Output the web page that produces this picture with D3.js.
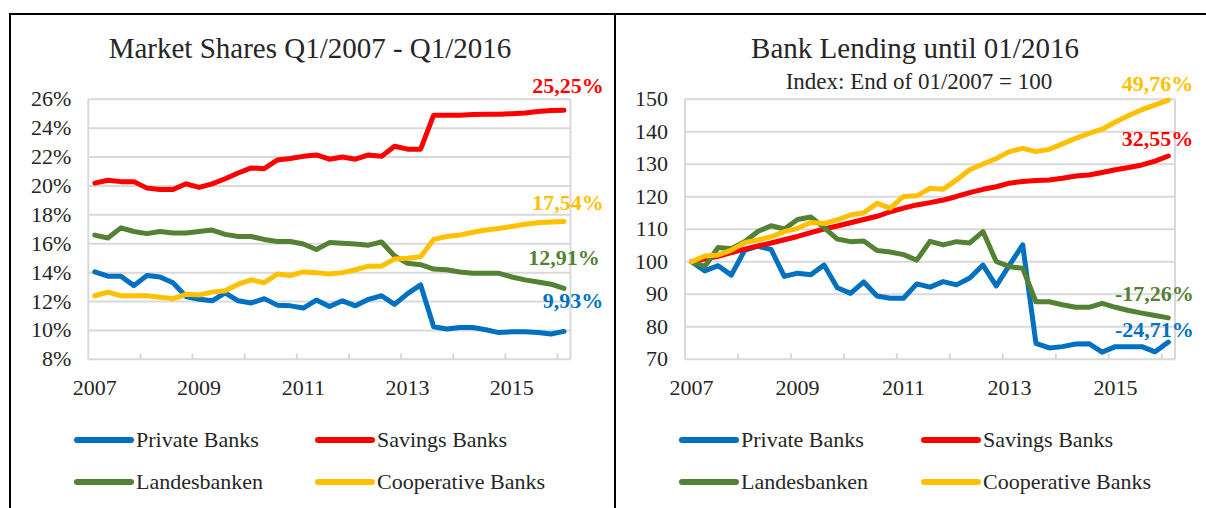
<!DOCTYPE html>
<html><head><meta charset="utf-8">
<script src="https://cdn.jsdelivr.net/npm/d3@7"></script>
<style>
body{margin:0;background:#fff}
svg{display:block}
text{font-family:"Liberation Serif","Times New Roman",serif;fill:#262626}
</style>
</head><body>
<svg id="c" width="1206" height="508"></svg>
<script>
// ---------- DATA ----------
const quarters = [
 "2007-Q1","2007-Q2","2007-Q3","2007-Q4","2008-Q1","2008-Q2","2008-Q3","2008-Q4",
 "2009-Q1","2009-Q2","2009-Q3","2009-Q4","2010-Q1","2010-Q2","2010-Q3","2010-Q4",
 "2011-Q1","2011-Q2","2011-Q3","2011-Q4","2012-Q1","2012-Q2","2012-Q3","2012-Q4",
 "2013-Q1","2013-Q2","2013-Q3","2013-Q4","2014-Q1","2014-Q2","2014-Q3","2014-Q4",
 "2015-Q1","2015-Q2","2015-Q3","2015-Q4","2016-Q1"];
const yearLabels = ["2007","2009","2011","2013","2015"];
const seriesNames = ["Private Banks","Savings Banks","Landesbanken","Cooperative Banks"];
const shareTicks = [8,10,12,14,16,18,20,22,24,26];
const indexTicks = [70,80,90,100,110,120,130,140,150];

// Market shares (%)
const sharePrivate = [14.05,13.75,13.75,13.1,13.8,13.7,13.3,12.35,12.15,12.05,12.6,12.05,11.9,12.2,11.75,11.7,11.55,12.1,11.65,12.05,11.7,12.15,12.4,11.8,12.55,13.15,10.25,10.1,10.2,10.2,10.05,9.85,9.9,9.9,9.85,9.75,9.93];
const shareSavings = [20.2,20.4,20.3,20.3,19.85,19.75,19.75,20.15,19.9,20.15,20.5,20.9,21.25,21.2,21.8,21.9,22.05,22.15,21.85,22.0,21.85,22.15,22.05,22.75,22.55,22.55,24.9,24.9,24.9,24.95,24.97,24.97,25.0,25.05,25.15,25.22,25.25];
const shareLandes = [16.6,16.4,17.1,16.85,16.7,16.85,16.75,16.75,16.85,16.95,16.65,16.5,16.5,16.3,16.15,16.15,15.98,15.6,16.08,16.03,15.98,15.9,16.12,15.15,14.65,14.55,14.25,14.2,14.05,13.95,13.95,13.95,13.7,13.5,13.35,13.2,12.91];
const shareCoop = [12.4,12.65,12.4,12.4,12.4,12.3,12.2,12.5,12.45,12.65,12.75,13.2,13.5,13.3,13.9,13.8,14.05,14.0,13.9,14.0,14.2,14.45,14.45,14.95,15.0,15.1,16.3,16.5,16.6,16.8,16.95,17.05,17.2,17.35,17.45,17.5,17.54];
const shareEndLabels = ["9,93%","25,25%","12,91%","17,54%"];

// Bank lending index (01/2007 = 100)
const lendPrivate = [100,97.2,98.8,95.9,103.5,104.8,103.8,95.5,96.5,96,99,92,90.3,93.8,89.5,88.8,88.8,93.2,92.2,93.9,92.9,95,99,92.6,99,105.2,74.9,73.5,73.9,74.7,74.8,72.2,73.9,73.9,73.9,72.3,75.29];
const lendSavings = [100,100.9,101.7,102.8,103.9,104.9,105.8,106.8,107.8,109.0,110.1,111.0,112.0,113.0,114.0,115.4,116.5,117.5,118.2,119.0,120.1,121.3,122.3,123.1,124.2,124.7,125.0,125.2,125.7,126.4,126.7,127.5,128.3,129.0,129.8,131.0,132.55];
const lendLandes = [100,98.6,104.4,104.0,106.2,109.3,111.1,110.1,113.0,113.8,110.5,107.0,106.2,106.4,103.5,103.0,102.2,100.5,106.3,105.2,106.2,105.8,109.3,100.1,98.5,98.0,87.7,87.7,86.8,86.0,86.0,87.2,86.0,85.0,84.2,83.5,82.74];
const lendCoop = [100,101.8,102.1,103.6,105.9,106.7,107.7,109.3,110.3,112.1,111.8,112.9,114.4,115.1,118.0,116.5,120.1,120.3,122.6,122.3,125.2,128.3,130.1,131.8,133.9,134.9,133.9,134.6,136.3,138.0,139.5,140.8,143.0,145.0,146.8,148.3,149.76];
const lendEndLabels = ["-24,71%","32,55%","-17,26%","49,76%"];

// ---------- STYLE ----------
const colors = ["#0070C0","#FF0000","#548235","#FFC000"];
const svg = d3.select("#c");

// panel frames
svg.append("line").attr("x1",9).attr("x2",1206).attr("y1",14).attr("y2",14).attr("stroke","#000").attr("stroke-width",2);
svg.append("line").attr("x1",10).attr("x2",10).attr("y1",13).attr("y2",508).attr("stroke","#000").attr("stroke-width",2);
svg.append("line").attr("x1",615).attr("x2",615).attr("y1",13).attr("y2",508).attr("stroke","#000").attr("stroke-width",2);

function panel(cfg){
  const g = svg.append("g");
  const x = d3.scaleBand().domain(quarters).range([cfg.x0, cfg.x1]).padding(0);
  const y = d3.scaleLinear().domain(cfg.domain).range([359.3, 99.3]);
  const bw = x.bandwidth();

  // gridlines
  g.selectAll(".grid").data(cfg.ticks).join("line")
    .attr("x1",cfg.x0).attr("x2",cfg.x1)
    .attr("y1",d=>y(d)).attr("y2",d=>y(d))
    .attr("stroke","#D9D9D9").attr("stroke-width",2);
  // plot border verticals
  [cfg.x0, cfg.x1].forEach(xx=>{
    g.append("line").attr("x1",xx).attr("x2",xx).attr("y1",y(cfg.domain[1])).attr("y2",y(cfg.domain[0]))
      .attr("stroke","#D9D9D9").attr("stroke-width",2);
  });
  // year ticks (inward)
  const tickCats = quarters.filter((q,i)=>q.endsWith("Q1") && i>0);
  g.selectAll(".xt").data(tickCats).join("line")
    .attr("x1",d=>x(d)).attr("x2",d=>x(d))
    .attr("y1",y(cfg.domain[0])).attr("y2",y(cfg.domain[0])-6)
    .attr("stroke","#D9D9D9").attr("stroke-width",2);

  // y labels
  g.selectAll(".yl").data(cfg.ticks).join("text")
    .attr("x",cfg.x0-17).attr("y",d=>y(d)+7)
    .attr("text-anchor","end").attr("font-size",22)
    .text(cfg.fmt);
  // x labels
  g.selectAll(".xl").data(yearLabels).join("text")
    .attr("x",d=>x(d+"-Q1")+bw/2).attr("y",395)
    .attr("text-anchor","middle").attr("font-size",22)
    .text(d=>d);

  // lines
  const line = d3.line().x((d,i)=>x(quarters[i])+bw/2).y(d=>y(d));
  cfg.series.forEach((s,k)=>{
    g.append("path").datum(s).attr("d",line).attr("fill","none")
      .attr("stroke",colors[k]).attr("stroke-width",5)
      .attr("stroke-linejoin","round").attr("stroke-linecap","round");
  });
  // end labels
  cfg.series.forEach((s,k)=>{
    const last = s[s.length-1];
    g.append("text").attr("x",x(quarters[quarters.length-1])+bw/2+cfg.labelDx[k])
      .attr("y",y(last)-cfg.labelDy[k])
      .attr("text-anchor","middle").attr("font-size",22).attr("font-weight","bold")
      .style("fill",colors[k]).text(cfg.endLabels[k]);
  });

  // titles
  g.append("text").attr("x",cfg.titleX).attr("y",58).attr("text-anchor","middle")
    .attr("font-size",29).text(cfg.title);
  if(cfg.subtitle){
    g.append("text").attr("x",cfg.subX).attr("y",89).attr("text-anchor","middle")
      .attr("font-size",23).text(cfg.subtitle);
  }

  // legend
  const cols = [cfg.legX, cfg.legX + cfg.legCol];
  seriesNames.forEach((n,k)=>{
    const lx = cols[k%2], ly = k<2 ? 440 : 482;
    g.append("line").attr("x1",lx).attr("x2",lx+54).attr("y1",ly).attr("y2",ly)
      .attr("stroke",colors[k]).attr("stroke-width",6).attr("stroke-linecap","round");
    g.append("text").attr("x",lx+59).attr("y",ly+7).attr("font-size",22).text(n);
  });
}

panel({
  x0:88.3, x1:570.5, domain:[8,26], ticks:shareTicks, fmt:d=>d+"%",
  series:[sharePrivate,shareSavings,shareLandes,shareCoop],
  endLabels:shareEndLabels, labelDx:[9,4,0,4], labelDy:[23,17,23,12],
  title:"Market Shares Q1/2007 - Q1/2016", titleX:310,
  legX:77, legCol:241
});
panel({
  x0:685, x1:1175, domain:[70,150], ticks:indexTicks, fmt:d=>d,
  series:[lendPrivate,lendSavings,lendLandes,lendCoop],
  endLabels:lendEndLabels, labelDx:[-14,-11,-14,-11], labelDy:[5,10,17,9],
  title:"Bank Lending until 01/2016", titleX:915,
  subtitle:"Index: End of 01/2007 = 100", subX:919,
  legX:682, legCol:242
});
</script>
</body></html>
